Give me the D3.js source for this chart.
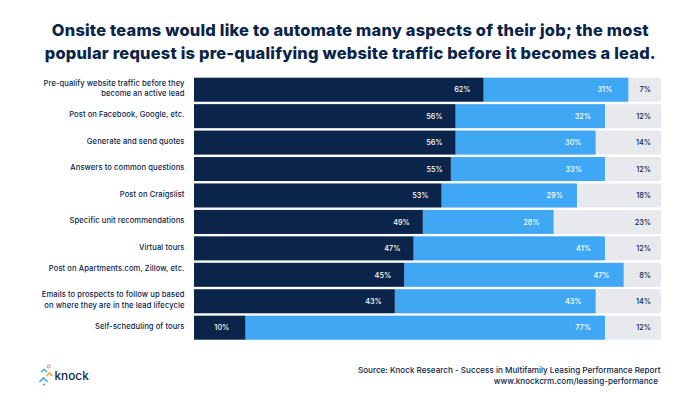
<!DOCTYPE html>
<html>
<head>
<meta charset="utf-8">
<script src="https://cdn.jsdelivr.net/npm/d3@7"></script>
<style>
  html, body { margin: 0; padding: 0; background: #fff; }
  svg { display: block; }
  text { font-family: Inter, "Noto Sans", sans-serif; }
</style>
</head>
<body>
<script>
// values, top row first
const categories = [
    ['Pre-qualify website traffic before they', 'become an active lead'],
    ['Post on Facebook, Google, etc.'],
    ['Generate and send quotes'],
    ['Answers to common questions'],
    ['Post on Craigslist'],
    ['Specific unit recommendations'],
    ['Virtual tours'],
    ['Post on Apartments.com, Zillow, etc.'],
    ['Emails to prospects to follow up based', 'on where they are in the lead lifecycle'],
    ['Self-scheduling of tours']
];
const wantItNow = [62, 56, 56, 55, 53, 49, 47, 45, 43, 10];
const wantItLater = [31, 32, 30, 33, 29, 28, 41, 47, 43, 77];
const noInterest = [7, 12, 14, 12, 18, 23, 12, 8, 14, 12];

const titleLines = [
    'Onsite teams would like to automate many aspects of their job; the most',
    'popular request is pre-qualifying website traffic before it becomes a lead.'
];
const sourceLines = [
    'Source: Knock Research - Success in Multifamily Leasing Performance Report',
    'www.knockcrm.com/leasing-performance'
];

const width = 700;
const height = 394;
const navy = '#0a2549';
const blue = '#40a7f5';
const grey = '#e8e9ed';

const svg = d3.select('body').append('svg')
    .attr('width', width)
    .attr('height', height);

const x = d3.scaleLinear().domain([0, 100]).range([194, 661]);
const y = d3.scaleBand()
    .domain(d3.range(categories.length))
    .range([77.7, 339.7])
    .paddingInner(0.092);

titleLines.forEach((line, i) => {
    svg.append('text')
        .attr('x', 350.3)
        .attr('y', 35.5 + i * 23.4)
        .attr('text-anchor', 'middle')
        .attr('font-size', 16.4)
        .attr('letter-spacing', 0.22)
        .attr('font-weight', 800)
        .attr('fill', navy)
        .text(line);
});

// the segments stack from the right, the rounded shares don't always add to 100
const blueEnd = i => 100 - noInterest[i];
const navyEnd = i => blueEnd(i) - wantItLater[i];

const rows = svg.append('g').selectAll('g')
    .data(d3.range(categories.length))
    .enter().append('g')
    .attr('transform', i => `translate(0,${y(i)})`);

rows.append('rect')
    .attr('x', x(0))
    .attr('width', x(100) - x(0))
    .attr('height', y.bandwidth())
    .attr('rx', 1.5)
    .attr('fill', grey);

rows.append('rect')
    .attr('x', i => x(navyEnd(i)))
    .attr('width', i => x(blueEnd(i)) - x(navyEnd(i)))
    .attr('height', y.bandwidth())
    .attr('fill', blue);

rows.append('rect')
    .attr('x', x(0))
    .attr('width', i => x(navyEnd(i)) - x(0))
    .attr('height', y.bandwidth())
    .attr('fill', navy);

// value labels sit a fixed gap in from the segment end, a few are off in the original
const navyNudge = { 3: 5, 9: -3 };
const blueNudge = { 0: -2, 3: -9 };

const valueLabel = (sel, xPos, colour, values) => sel.append('text')
    .attr('x', xPos)
    .attr('y', y.bandwidth() / 2 + 2.8)
    .attr('text-anchor', 'end')
    .attr('font-size', 7.3)
    .attr('font-weight', 500)
    .attr('fill', colour)
    .text(i => values[i] + '%');

valueLabel(rows, i => x(navyEnd(i)) - 13 + (navyNudge[i] || 0), '#fff', wantItNow);
valueLabel(rows, i => x(blueEnd(i)) - 14 + (blueNudge[i] || 0), '#fff', wantItLater);
valueLabel(rows, x(100) - 10, navy, noInterest);

// category labels, Apartments row sits high in the original
const labelShift = { 7: -5 };
rows.each(function (i) {
    const lines = categories[i];
    const lineGap = 10.3;
    lines.forEach((line, k) => {
        d3.select(this).append('text')
            .attr('x', 184.5)
            .attr('y', y.bandwidth() / 2 + 1.2 + (labelShift[i] || 0) + (k - (lines.length - 1) / 2) * lineGap)
            .attr('text-anchor', 'end')
            .attr('font-size', 7.6)
            .attr('letter-spacing', 0.08)
            .attr('font-weight', 500)
            .attr('fill', navy)
            .text(line);
    });
});

sourceLines.forEach((line, i) => {
    svg.append('text')
        .attr('x', i === 0 ? 660.5 : 658)
        .attr('y', 373 + i * 10.8)
        .attr('text-anchor', 'end')
        .attr('font-size', 8.1)
        .attr('font-weight', 500)
        .attr('fill', navy)
        .text(line);
});

// logo
const logo = svg.append('g').attr('fill', 'none').attr('stroke-width', 1.6);
logo.append('path').attr('d', 'M39.5 382 L43.5 378 L47.5 382').attr('stroke', blue);
logo.append('path').attr('d', 'M41 372 L44 369.5 L47 372').attr('stroke', '#3dbd8f');
logo.append('path').attr('d', 'M46.5 376 L49.5 373 L52.5 376').attr('stroke', '#f5a742');
logo.append('circle').attr('cx', 48.7).attr('cy', 366.5).attr('r', 1.5).attr('stroke', '#ef5d8f').attr('stroke-width', 0.9);
logo.append('circle').attr('cx', 44).attr('cy', 384.5).attr('r', 1.1).attr('fill', blue).attr('stroke', 'none');
svg.append('text')
    .attr('x', 54.5)
    .attr('y', 379.8)
    .attr('font-size', 11.8)
    .attr('font-weight', 500)
    .attr('fill', navy)
    .text('knock');
</script>
</body>
</html>
